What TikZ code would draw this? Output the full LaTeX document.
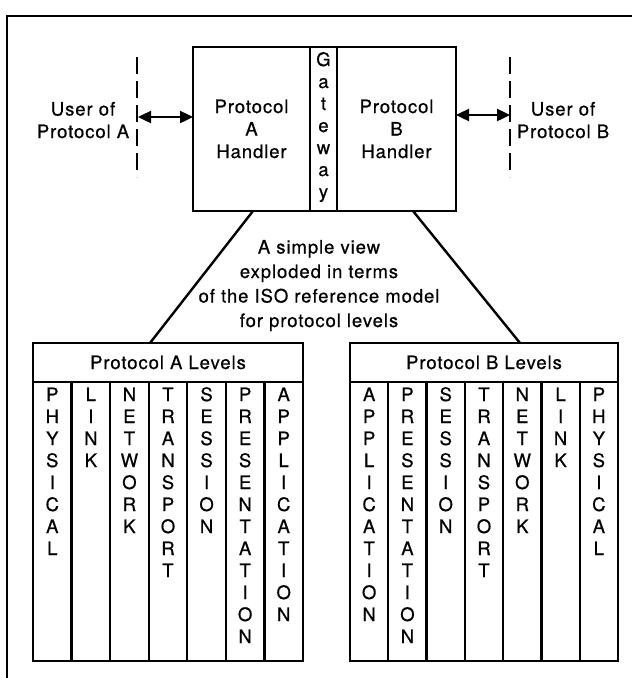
\documentclass[tikz,border=0pt]{standalone}
\usepackage{fontspec}
\setmainfont{TeX Gyre Heros}[LetterSpace=5, FakeBold=0.6]
\usetikzlibrary{arrows.meta}
\begin{document}
\begin{tikzpicture}[x=1pt,y=-1pt,
  thick line/.style={line width=2.4pt},
  cell/.style={draw, thick line, inner sep=0pt, outer sep=0pt, anchor=north west},
  label text/.style={inner sep=0pt, font=\fontsize{18.5}{22.5}\selectfont, align=center},
  letter/.style={inner sep=0pt, anchor=base, font=\fontsize{18.5}{20}\selectfont},
  dashline/.style={line width=2.2pt, dash pattern=on 17pt off 7pt},
  bothtips/.style={thick line, {Triangle[length=13pt,width=12pt]}-{Triangle[length=13pt,width=12pt]}},
  frameline/.style={line width=2pt}]
\useasboundingbox (0,0) rectangle (632,678);

% surrounding frame (top and left edges)
\coordinate (fBL) at (7,690);
\coordinate (fTL) at (7,16);
\coordinate (fTR) at (645,16);
\draw[frameline] (fBL) -- (fTL) -- (fTR);

% gateway box: two protocol handlers around the gateway strip
\node[cell, minimum width=117pt, minimum height=164pt] (hA) at (193,47) {};
\node[cell, minimum width=27pt,  minimum height=164pt] (gw) at (310,47) {};
\node[cell, minimum width=119pt, minimum height=164pt] (hB) at (337,47) {};

% multi-line nodes: the base anchor sits on the last line
\node[label text, anchor=base] (hAtxt) at (251.5,158) {Protocol\\A\\Handler};
\node[label text, anchor=base] (hBtxt) at (396.5,158) {Protocol\\B\\Handler};
\foreach \ch [count=\k] in {G,a,t,e,w,a,y}
  \node[letter] (gw-\k) at (323.5,{66+22*(\k-1)}) {\ch};

% users on either side, behind dashed interfaces
\coordinate (dAt) at (137,57);
\coordinate (dAb) at (137,177);
\coordinate (dBt) at (510,57);
\coordinate (dBb) at (510,177);
\draw[dashline] (dAt) -- (dAb);
\draw[dashline] (dBt) -- (dBb);
\coordinate (uA) at (138,117);
\coordinate (uB) at (510,115);
\draw[bothtips] (uA) -- (uA -| hA.west);
\draw[bothtips] (uB -| hB.east) -- (uB);

\node[label text, anchor=base] (userA) at (83,138) {User of\\Protocol A};
\node[label text, anchor=base] (userB) at (563,138) {User of\\Protocol B};

% explanatory text
\node[label text, anchor=base, font=\fontsize{18.5}{24.5}\selectfont] (expl) at (319,327)
  {A simple view\\exploded in terms\\of the ISO reference model\\for protocol levels};

% layer stacks
\node[cell, minimum width=270pt, minimum height=39pt] (hdrA) at (33,343) {};
\node[label text, anchor=base] at (hdrA.center |- 0,369) (hdrAtxt) {Protocol A Levels};
\node[cell, minimum width=268pt, minimum height=39pt] (hdrB) at (350,343) {};
\node[label text, anchor=base] at (hdrB.center |- 0,369) (hdrBtxt) {Protocol B Levels};

\foreach \w [count=\c] in {{P,H,Y,S,I,C,A,L},{L,I,N,K},{N,E,T,W,O,R,K},{T,R,A,N,S,P,O,R,T},{S,E,S,S,I,O,N},{P,R,E,S,E,N,T,A,T,I,O,N},{A,P,P,L,I,C,A,T,I,O,N}}{
  \node[cell, minimum width=270/7*1pt, minimum height=279pt] (colA-\c) at ({33+270/7*(\c-1)},382) {};
  \foreach \ch [count=\k] in \w
    \node[letter] (colA-\c-\k) at (colA-\c.north |- 0,{401+22*(\k-1)}) {\ch};
}
\foreach \w [count=\c] in {{A,P,P,L,I,C,A,T,I,O,N},{P,R,E,S,E,N,T,A,T,I,O,N},{S,E,S,S,I,O,N},{T,R,A,N,S,P,O,R,T},{N,E,T,W,O,R,K},{L,I,N,K},{P,H,Y,S,I,C,A,L}}{
  \node[cell, minimum width=268/7*1pt, minimum height=279pt] (colB-\c) at ({350+268/7*(\c-1)},382) {};
  \foreach \ch [count=\k] in \w
    \node[letter] (colB-\c-\k) at (colB-\c.north |- 0,{401+22*(\k-1)}) {\ch};
}

% the gateway exploded into the two layer stacks
\draw[thick line] ([xshift=60pt]hA.south west) -- ([xshift=117pt]hdrA.north west);
\draw[thick line] ([xshift=76pt]hB.south west) -- ([xshift=170pt]hdrB.north west);
\end{tikzpicture}
\end{document}
